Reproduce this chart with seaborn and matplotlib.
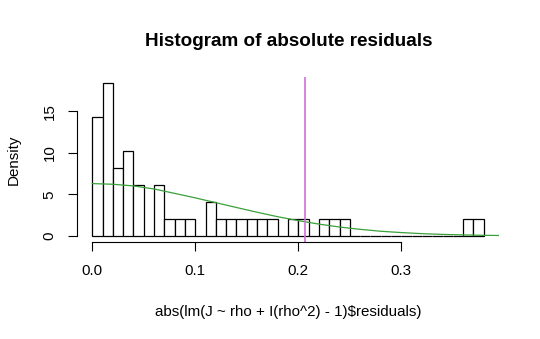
import matplotlib
matplotlib.use("Agg")
import matplotlib.pyplot as plt
import seaborn as sns
import numpy as np
import pandas as pd

# ---- data ----
bin_width = 0.01
bin_counts = [7, 9, 4, 5, 3, 0, 3, 1, 1, 1, 0, 2, 1, 1, 1, 1, 1, 1, 0, 1,
              1, 0, 1, 1, 1, 0, 0, 0, 0, 0, 0, 0, 0, 0, 0, 0, 1, 1]
curve_x = [0.0, 0.02, 0.04, 0.06, 0.08, 0.10, 0.12, 0.14, 0.16, 0.18, 0.20,
           0.22, 0.24, 0.26, 0.28, 0.30, 0.32, 0.34, 0.36, 0.38, 0.396]
curve_y = [6.3, 6.22, 6.02, 5.65, 5.12, 4.58, 4.0, 3.42, 2.85, 2.31, 1.84,
           1.42, 1.07, 0.79, 0.56, 0.40, 0.27, 0.18, 0.12, 0.07, 0.05]
vline_x = 0.2065
x_ticks = [0.0, 0.1, 0.2, 0.3]
x_ticklabels = ["0.0", "0.1", "0.2", "0.3"]
y_ticks = [0, 5, 10, 15]
y_ticklabels = ["0", "5", "10", "15"]
title = "Histogram of absolute residuals"
xlabel = "abs(lm(J ~ rho + I(rho^2) - 1)$residuals)"
ylabel = "Density"

sns.set_theme(style="white")
plt.rcParams["font.family"] = ["Liberation Sans", "DejaVu Sans"]

n_bins = len(bin_counts)
x_max = n_bins * bin_width
centers = (np.arange(n_bins) + 0.5) * bin_width
hist_df = pd.DataFrame({"resid": centers, "count": np.array(bin_counts, dtype=float)})
curve_df = pd.DataFrame({"x": curve_x, "y": curve_y})

fig = plt.figure(figsize=(5.4, 3.39), dpi=100)
ax = fig.add_axes([76.6 / 540, 1 - 242 / 339, (499.4 - 76.6) / 540, (242 - 77.3) / 339])

sns.histplot(data=hist_df, x="resid", weights="count", binwidth=bin_width,
             binrange=(0.0, x_max), stat="density",
             color="white", edgecolor="black", linewidth=0.9, alpha=1, ax=ax)
sns.lineplot(data=curve_df, x="x", y="y", color="#3aa03a", linewidth=0.9, ax=ax)
ax.axvline(vline_x, color="#d070d8", linewidth=1.2)

dmax = max(bin_counts) / (sum(bin_counts) * bin_width)
ax.set_xlim(-0.04 * x_max, x_max * 1.04)
ax.set_ylim(-0.04 * dmax, dmax * 1.04)

for s in ["top", "right"]:
    ax.spines[s].set_visible(False)
for s in ["left", "bottom"]:
    ax.spines[s].set_color("black")
    ax.spines[s].set_linewidth(0.8)
ax.spines["left"].set_bounds(y_ticks[0], y_ticks[-1])
ax.spines["bottom"].set_bounds(x_ticks[0], x_ticks[-1])

ax.set_xticks(x_ticks)
ax.set_xticklabels(x_ticklabels)
ax.set_yticks(y_ticks)
ax.set_yticklabels(y_ticklabels, rotation=90, va="center")
ax.tick_params(axis="both", which="major", direction="out", length=6.5, width=0.8,
               color="black", labelsize=10.9, labelcolor="black",
               bottom=True, left=True)
ax.tick_params(axis="x", pad=9.0)
ax.tick_params(axis="y", pad=8.0)
ax.set_xlabel("")
ax.set_ylabel("")

fig.text(288.3 / 540, 1 - 46.5 / 339, title, ha="center", va="baseline",
         fontsize=13.6, fontweight="bold", color="black")
fig.text(288.3 / 540, 1 - 316 / 339, xlabel, ha="center", va="baseline",
         fontsize=10.9, color="black")
fig.text(14 / 540, 1 - 159.6 / 339, ylabel, ha="center", va="center",
         rotation=90, fontsize=10.9, color="black")

fig.savefig("out.png", dpi=100, facecolor="white")
